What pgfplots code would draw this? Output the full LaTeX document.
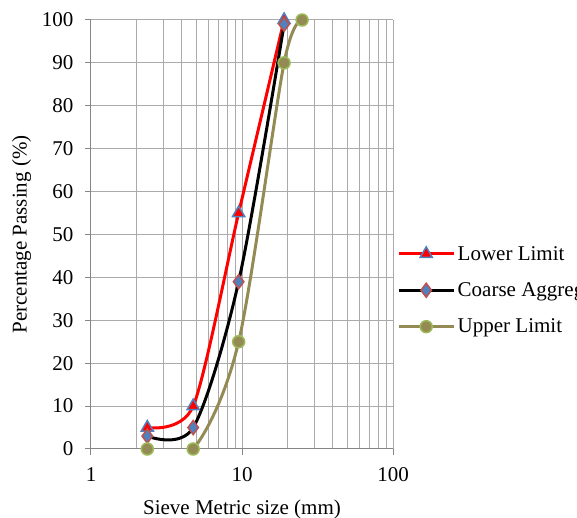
\documentclass[border=0pt]{standalone}
\usepackage{fontspec}
\setmainfont{Liberation Serif}
\usepackage{pgfplots}
\pgfplotsset{compat=1.18}

\definecolor{gridgray}{RGB}{170,170,170}
\definecolor{axgray}{RGB}{134,134,134}
\definecolor{mkblue}{RGB}{79,129,189}
\definecolor{mkred}{RGB}{192,80,77}
\definecolor{olive}{RGB}{148,138,84}
\definecolor{mkgreen}{RGB}{155,187,89}

\begin{document}
\begin{tikzpicture}
\begin{axis}[
    xmode=log,
    scale only axis,
    width=302pt, height=429pt,
    xmin=1, xmax=100,
    ymin=0, ymax=100,
    ytick={0,10,...,100},
    xtick={1,10,100},
    xticklabels={1,10,100},
    log ticks with fixed point,
    grid=both,
    major grid style={gridgray, line width=1pt},
    minor grid style={gridgray, line width=1pt},
    minor y tick num=0,
    axis line style={axgray, line width=1pt},
    tick style={axgray, line width=1pt},
    tick align=outside,
    major tick length=6pt,
    minor tick length=0pt,
    axis x line*=bottom, axis y line*=left,
    ticklabel style={font=\fontsize{21}{25}\selectfont},
    yticklabel style={xshift=-8pt},
    xticklabel style={yshift=-9pt},
    /pgf/number format/assume math mode=true,
    label style={font=\fontsize{21}{25}\selectfont},
    xlabel={Sieve Metric size (mm)},
    ylabel={Percentage Passing (\%)},
    xlabel style={yshift=-11pt},
    ylabel style={yshift=4pt},
    legend style={at={(1.005,0.37)}, anchor=west, draw=none, fill=none,
        font=\fontsize{21}{25}\selectfont, row sep=17pt,
        /tikz/every even column/.append style={column sep=2pt}},
    legend cell align=left,
    legend image code/.code={\draw[mark repeat=2,mark phase=2] plot coordinates {(0pt,0pt)(27pt,0pt)(55pt,0pt)};},
    clip=true,
]
\addplot[red, line width=3pt, smooth, tension=0.45,
    mark=triangle*, mark size=7pt,
    mark options={fill=red, draw=mkblue, line width=1.5pt}]
    coordinates {(2.36,5) (4.75,10) (9.5,55) (19,100)};
\addlegendentry{Lower Limit}
\addplot[black, line width=3pt, smooth, tension=0.5,
    mark=diamond*, mark size=7pt,
    mark options={fill=mkblue, draw=mkred, line width=1.5pt}]
    coordinates {(2.36,3) (4.75,5) (9.5,39) (19,99)};
\addlegendentry{Coarse Aggregate}
\addplot[olive, line width=3pt, smooth, tension=0.5,
    mark=*, mark size=6pt,
    mark options={fill=olive, draw=mkgreen, line width=1.5pt}]
    coordinates {(2.36,0) (4.75,0) (9.5,25) (19,90) (25,100)};
\addlegendentry{Upper Limit}
\end{axis}
\pgfresetboundingbox
\useasboundingbox (-91pt,-69pt) rectangle (486pt,449pt);
\end{tikzpicture}
\end{document}
